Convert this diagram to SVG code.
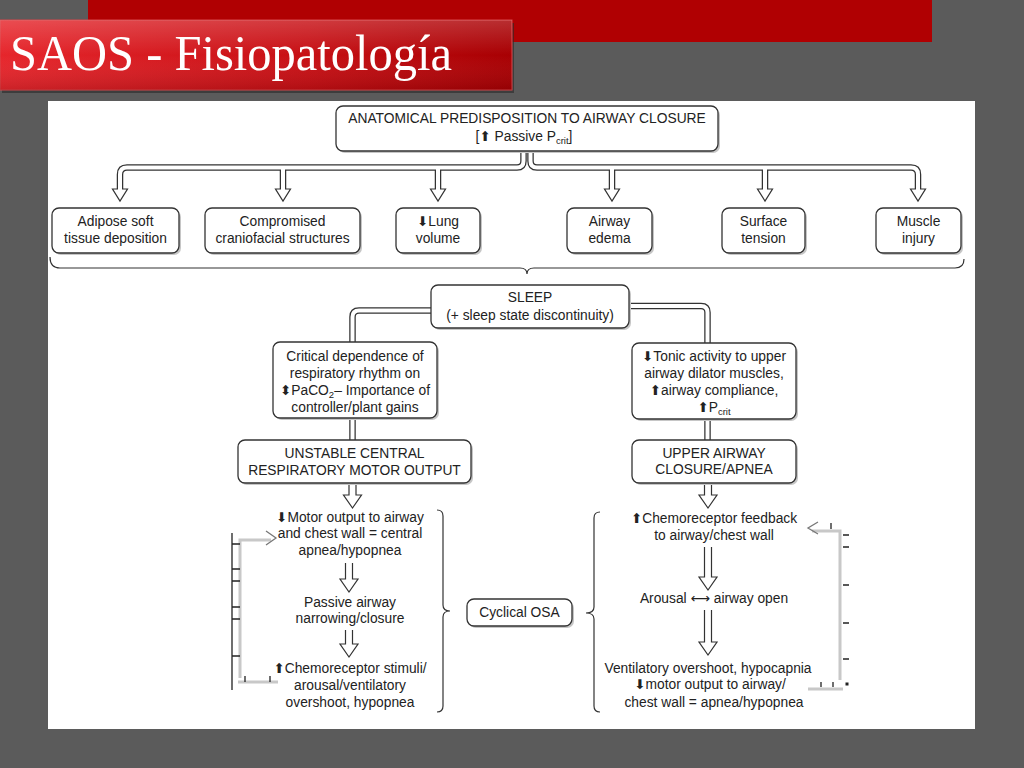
<svg xmlns="http://www.w3.org/2000/svg" xmlns:xlink="http://www.w3.org/1999/xlink" width="1024" height="768" viewBox="0 0 1024 768">
<style>
.box{fill:#fff;stroke:#333;stroke-width:1.3}
.shd{fill:#c6c6c6}
.t{font-family:"Liberation Sans",Arial,sans-serif;font-size:13.8px;fill:#222;text-anchor:middle}
.ar{font-family:"DejaVu Sans",sans-serif;font-size:13.5px}
.sub{font-size:9.5px}
.pd{fill:none;stroke:#333;stroke-width:6.5}
.pw{fill:none;stroke:#fff;stroke-width:4}
.ah{fill:#fff;stroke:#333;stroke-width:1.2}
.br{fill:none;stroke:#333;stroke-width:1.2}
.fb{fill:none;stroke:#c8c8c8;stroke-width:3}
.tk{stroke:#222;stroke-width:1.3;fill:none}
</style>
<defs>
<linearGradient id="tg" x1="0" y1="0" x2="1" y2="0">
<stop offset="0" stop-color="#e6262c"/>
<stop offset="0.6" stop-color="#c70f14"/>
<stop offset="1" stop-color="#a80003"/>
</linearGradient>
<linearGradient id="tgv" x1="0" y1="0" x2="0" y2="1">
<stop offset="0" stop-color="#fff" stop-opacity="0.18"/>
<stop offset="0.5" stop-color="#fff" stop-opacity="0"/>
<stop offset="1" stop-color="#000" stop-opacity="0.12"/>
</linearGradient>
<path id="pL" d="M 523.5 151 V 161 Q 523.5 167.5 517 167.5 H 127 Q 120 167.5 120 174.5 V 190"/>
<path id="pR" d="M 530.5 151 V 161 Q 530.5 167.5 537 167.5 H 911 Q 918 167.5 918 174.5 V 190"/>
<path id="pD" d="M 283 167.5 V 190 M 438 167.5 V 190 M 612 167.5 V 190 M 765 167.5 V 190"/>
<path id="pS" d="M 432 310.5 H 359 Q 352.5 310.5 352.5 317 V 343 M 628 306 H 701 Q 707.5 306 707.5 312.5 V 344 M 352.5 417 V 441 M 707.5 418 V 441"/>
</defs>

<rect x="0" y="0" width="1024" height="768" fill="#5b5b5b"/>
<rect x="88" y="0" width="844" height="42" fill="#b00002"/>
<rect x="2" y="23" width="512" height="70" fill="#2a2a2a" opacity="0.6"/>
<rect x="0" y="20" width="512" height="70" fill="url(#tg)" stroke="#d8474b" stroke-width="1"/>
<rect x="0" y="20" width="512" height="70" fill="url(#tgv)"/>
<text x="10" y="70" font-family="Liberation Serif, serif" font-size="50" fill="#fff" textLength="442" lengthAdjust="spacingAndGlyphs">SAOS - Fisiopatología</text>

<rect x="48" y="101" width="927" height="628" fill="#fff"/>

<g id="connectors">
<use xlink:href="#pL" class="pd"/>
<use xlink:href="#pR" class="pd"/>
<use xlink:href="#pD" class="pd"/>
<use xlink:href="#pS" class="pd"/>
<polygon class="ah" points="112.5,189 127.5,189 120,201"/>
<polygon class="ah" points="275.5,189 290.5,189 283,201"/>
<polygon class="ah" points="430.5,189 445.5,189 438,201"/>
<polygon class="ah" points="604.5,189 619.5,189 612,201"/>
<polygon class="ah" points="757.5,189 772.5,189 765,201"/>
<polygon class="ah" points="910.5,189 925.5,189 918,201"/>
<use xlink:href="#pL" class="pw"/>
<use xlink:href="#pR" class="pw"/>
<use xlink:href="#pD" class="pw"/>
<use xlink:href="#pS" class="pw"/>
<path class="br" d="M 50 257 Q 50 268 60 268 H 520 Q 527 268 527 274 Q 527 268 534 268 H 955 Q 964 268 964 259"/>
<polyline class="ah" points="349,482 349,495 343.5,495 352.5,508 361.5,495 356,495 356,482"/>
<polyline class="ah" points="704.5,482 704.5,495 699,495 708,508 717,495 711.5,495 711.5,482"/>
<polyline class="ah" points="345.5,563 345.5,579 340,579 349,592 358,579 352.5,579 352.5,563"/>
<polyline class="ah" points="345.5,630 345.5,644 340,644 349,657 358,644 352.5,644 352.5,630"/>
<polyline class="ah" points="704.5,547 704.5,577 699,577 708,590 717,577 711.5,577 711.5,547"/>
<polyline class="ah" points="704.5,610 704.5,642 699,642 708,655 717,642 711.5,642 711.5,610"/>
<path class="br" d="M 437 510 Q 443 510 443 516 V 605 Q 443 611 450 611 Q 443 611 443 617 V 706 Q 443 712 437 712"/>
<path class="br" d="M 600 512 Q 594 512 594 518 V 607 Q 594 613 586 613 Q 594 613 594 619 V 706 Q 594 712 600 712"/>
<path class="fb" d="M 240 678 V 540 H 271"/>
<path class="fb" d="M 238 682 H 278"/>
<polyline points="266,531 276,538 266,545" fill="none" stroke="#777" stroke-width="1.3"/>
<path class="tk" d="M 232 533 V 690 M 232 544 H 240 M 232 569 H 240 M 232 581 H 240 M 232 607 H 240 M 232 619 H 240 M 232 656 H 240 M 245 676 V 682 M 270 676 V 682"/>
<path class="fb" d="M 840 680 V 531 H 812"/>
<path class="fb" d="M 808 689 H 843"/>
<polyline points="818,522 808,528 818,534" fill="none" stroke="#777" stroke-width="1.3"/>
<path class="tk" d="M 831 523 V 529 M 843 535 H 849 M 843 547 H 849 M 843 585 H 849 M 843 623 H 849 M 843 659 H 849 M 821 682 V 687 M 833 682 V 687"/>
<rect x="845.5" y="682.5" width="3" height="3" fill="#222"/>
</g>

<g id="n-anatomical">
<rect class="shd" x="338" y="108" width="382" height="45" rx="7"/>
<rect class="box" x="336" y="106" width="382" height="45" rx="7"/>
<text class="t" x="527" y="123">ANATOMICAL PREDISPOSITION TO AIRWAY CLOSURE</text>
<text class="t" x="524" y="141">[<tspan class="ar">⬆</tspan> Passive P<tspan class="sub" dy="3">crit</tspan><tspan dy="-3">]</tspan></text>
</g>
<g id="n-adipose">
<rect class="shd" x="54" y="210" width="127" height="45" rx="7"/>
<rect class="box" x="52" y="208" width="127" height="45" rx="7"/>
<text class="t" x="115.5" y="226">Adipose soft</text>
<text class="t" x="115.5" y="243">tissue deposition</text>
</g>
<g id="n-craniofacial">
<rect class="shd" x="207" y="210" width="155" height="45" rx="7"/>
<rect class="box" x="205" y="208" width="155" height="45" rx="7"/>
<text class="t" x="282.5" y="226">Compromised</text>
<text class="t" x="282.5" y="243">craniofacial structures</text>
</g>
<g id="n-lung">
<rect class="shd" x="398" y="210" width="84" height="45" rx="7"/>
<rect class="box" x="396" y="208" width="84" height="45" rx="7"/>
<text class="t" x="438" y="226"><tspan class="ar">⬇</tspan>Lung</text>
<text class="t" x="438" y="243">volume</text>
</g>
<g id="n-edema">
<rect class="shd" x="569" y="210" width="85" height="45" rx="7"/>
<rect class="box" x="567" y="208" width="85" height="45" rx="7"/>
<text class="t" x="609.5" y="226">Airway</text>
<text class="t" x="609.5" y="243">edema</text>
</g>
<g id="n-surface">
<rect class="shd" x="724" y="210" width="83" height="45" rx="7"/>
<rect class="box" x="722" y="208" width="83" height="45" rx="7"/>
<text class="t" x="763.5" y="226">Surface</text>
<text class="t" x="763.5" y="243">tension</text>
</g>
<g id="n-muscle">
<rect class="shd" x="878" y="210" width="85" height="45" rx="7"/>
<rect class="box" x="876" y="208" width="85" height="45" rx="7"/>
<text class="t" x="918.5" y="226">Muscle</text>
<text class="t" x="918.5" y="243">injury</text>
</g>
<g id="n-sleep">
<rect class="shd" x="433" y="287" width="198" height="43" rx="7"/>
<rect class="box" x="431" y="285" width="198" height="43" rx="7"/>
<text class="t" x="530" y="302">SLEEP</text>
<text class="t" x="530" y="320">(+ sleep state discontinuity)</text>
</g>
<g id="n-critical">
<rect class="shd" x="275" y="344" width="164" height="76" rx="7"/>
<rect class="box" x="273" y="342" width="164" height="76" rx="7"/>
<text class="t" x="355" y="361">Critical dependence of</text>
<text class="t" x="355" y="378">respiratory rhythm on</text>
<text class="t" x="355" y="395"><tspan class="ar">⬍</tspan>PaCO<tspan class="sub" dy="3">2</tspan><tspan dy="-3">– Importance of</tspan></text>
<text class="t" x="355" y="412">controller/plant gains</text>
</g>
<g id="n-tonic">
<rect class="shd" x="634" y="345" width="164" height="76" rx="7"/>
<rect class="box" x="632" y="343" width="164" height="76" rx="7"/>
<text class="t" x="714" y="361"><tspan class="ar">⬇</tspan>Tonic activity to upper</text>
<text class="t" x="714" y="378">airway dilator muscles,</text>
<text class="t" x="714" y="395"><tspan class="ar">⬆</tspan>airway compliance,</text>
<text class="t" x="714" y="412"><tspan class="ar">⬆</tspan>P<tspan class="sub" dy="3">crit</tspan></text>
</g>
<g id="n-unstable">
<rect class="shd" x="240" y="442" width="233" height="43" rx="7"/>
<rect class="box" x="238" y="440" width="233" height="43" rx="7"/>
<text class="t" x="354.5" y="458">UNSTABLE CENTRAL</text>
<text class="t" x="354.5" y="475">RESPIRATORY MOTOR OUTPUT</text>
</g>
<g id="n-upper">
<rect class="shd" x="634" y="442" width="164" height="43" rx="7"/>
<rect class="box" x="632" y="440" width="164" height="43" rx="7"/>
<text class="t" x="714" y="458">UPPER AIRWAY</text>
<text class="t" x="714" y="474">CLOSURE/APNEA</text>
</g>
<g id="n-motor">
<text class="t" x="350" y="522"><tspan class="ar">⬇</tspan>Motor output to airway</text>
<text class="t" x="350" y="538">and chest wall = central</text>
<text class="t" x="350" y="555">apnea/hypopnea</text>
</g>
<g id="n-passive">
<text class="t" x="350" y="607">Passive airway</text>
<text class="t" x="350" y="623">narrowing/closure</text>
</g>
<g id="n-chemostim">
<text class="t" x="350" y="673"><tspan class="ar">⬆</tspan>Chemoreceptor stimuli/</text>
<text class="t" x="350" y="690">arousal/ventilatory</text>
<text class="t" x="350" y="707">overshoot, hypopnea</text>
</g>
<g id="n-cyclical">
<rect class="shd" x="469" y="601" width="105" height="27" rx="7"/>
<rect class="box" x="467" y="599" width="105" height="27" rx="7"/>
<text class="t" x="519.5" y="617">Cyclical OSA</text>
</g>
<g id="n-chemofeed">
<text class="t" x="714" y="523"><tspan class="ar">⬆</tspan>Chemoreceptor feedback</text>
<text class="t" x="714" y="540">to airway/chest wall</text>
</g>
<g id="n-arousal">
<text class="t" x="714" y="603">Arousal <tspan class="ar" font-size="15px">⟷</tspan> airway open</text>
</g>
<g id="n-overshoot">
<text class="t" x="708" y="673">Ventilatory overshoot, hypocapnia</text>
<text class="t" x="710" y="689"><tspan class="ar">⬇</tspan>motor output to airway/</text>
<text class="t" x="714" y="707">chest wall = apnea/hypopnea</text>
</g>
</svg>
